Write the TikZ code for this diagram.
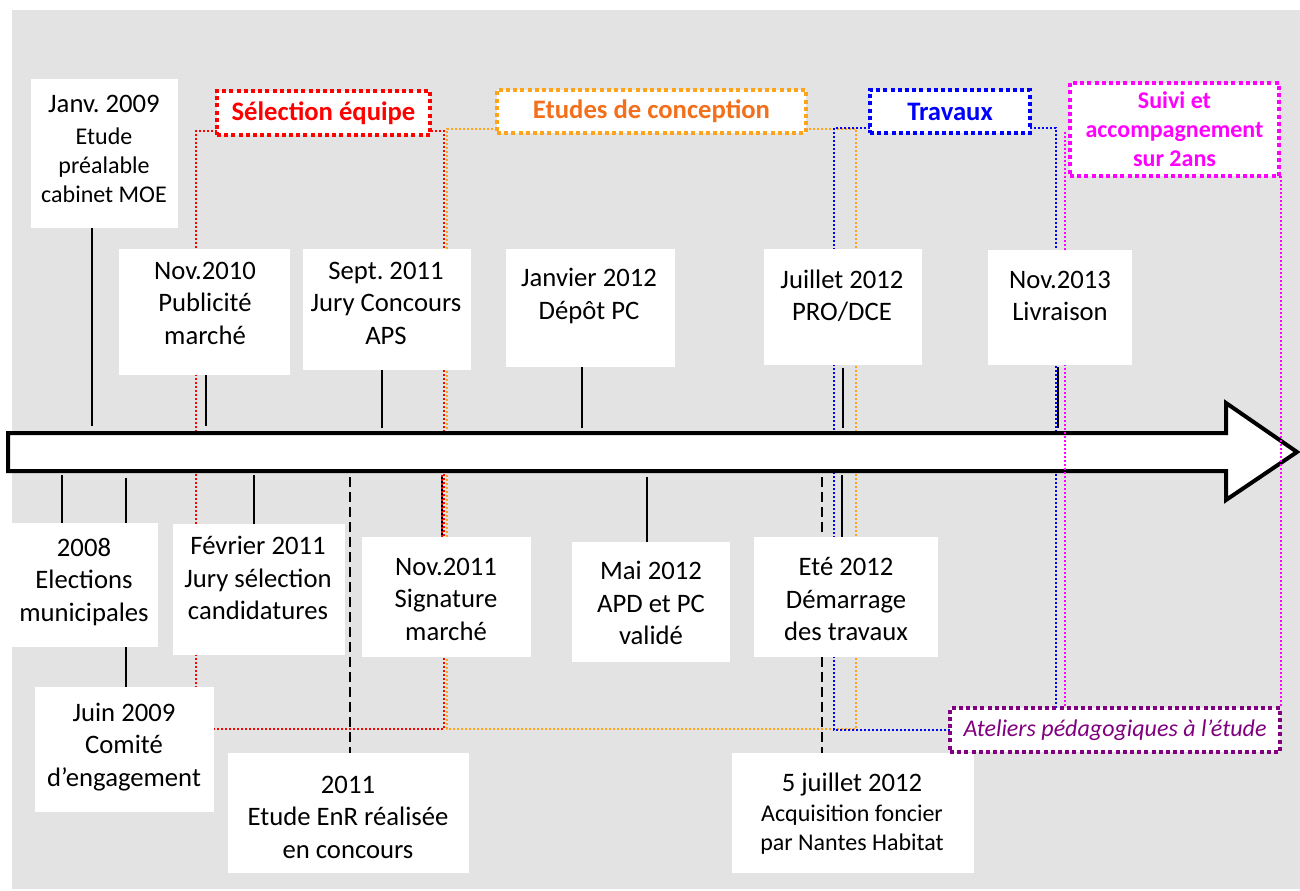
\documentclass[tikz,border=0pt]{standalone}
\usepackage{fontspec}
\setmainfont{Carlito}
\usetikzlibrary{fit}
\definecolor{bggrey}{RGB}{227,227,227}
\definecolor{cred}{RGB}{255,0,0}
\definecolor{corange}{RGB}{255,163,26}
\definecolor{corangetext}{RGB}{242,112,28}
\definecolor{cblue}{RGB}{0,0,255}
\definecolor{cmag}{RGB}{255,0,255}
\definecolor{cpurple}{RGB}{128,0,128}
\newcommand\ftwenty{\fontsize{20}{24.4}\selectfont}
\newcommand\feighteen{\fontsize{18}{21.75}\selectfont}
\pgfdeclarelayer{bglayer}
\pgfdeclarelayer{linelayer}
\pgfdeclarelayer{arrowlayer}
\pgfsetlayers{bglayer,linelayer,arrowlayer,main}
\begin{document}
\frenchspacing
\begin{tikzpicture}[x=0.75pt,y=-0.75pt,
  evbox/.style={fill=white, draw=none, inner sep=0pt, outer sep=0pt},
  evtext/.style={align=center, inner sep=0pt, font=\ftwenty, text=black},
  phase/.style={fill=white, inner sep=0pt, outer sep=0pt, line width=3pt, dash pattern=on 3pt off 2.4pt, font=\ftwenty\bfseries, align=center},
  thindot/.style={line width=1.5pt, dash pattern=on 1.5pt off 1.5pt},
  tick/.style={line width=1.3pt, draw=black},
  dashtick/.style={line width=1.5pt, draw=black, dash pattern=on 7.5pt off 3.75pt}]
\useasboundingbox (0,0) rectangle (1300,891);

% ---------- event boxes ----------
\node[evbox, fit={(31,79) (178,228)}] (A) {};
\node[evbox, fit={(119,249) (290,375)}] (B) {};
\node[evbox, fit={(303,249) (471,370)}] (C) {};
\node[evbox, fit={(506,249) (675,367)}] (D) {};
\node[evbox, fit={(764,249) (922,365)}] (E) {};
\node[evbox, fit={(988,250) (1132,365)}] (F) {};
\node[evbox, fit={(12,523) (158,647)}] (G) {};
\node[evbox, fit={(35,687) (214,812)}] (H) {};
\node[evbox, fit={(173,524) (345,655)}] (I) {};
\node[evbox, fit={(228,753) (469,873)}] (J) {};
\node[evbox, fit={(362,537) (531,657)}] (K) {};
\node[evbox, fit={(572,542) (730,662)}] (L) {};
\node[evbox, fit={(754,537) (938,657)}] (M) {};
\node[evbox, fit={(732,753) (974,873)}] (N) {};

\node[evtext, font=\feighteen] (At) at (104,149) {{\ftwenty Janv. 2009}\\[2.25pt]Etude\\préalable\\cabinet MOE};
\node[evtext] (Bt) at (205,303) {Nov.2010\\Publicité\\marché};
\node[evtext] (Ct) at (386,303) {Sept. 2011\\Jury Concours\\APS};
\node[evtext] (Dt) at (589,296) {Janvier 2012\\Dépôt PC};
\node[evtext] (Et) at (842,296) {Juillet 2012\\PRO/DCE};
\node[evtext] (Ft) at (1060,296) {Nov.2013\\Livraison};
\node[evtext] (Gt) at (84,582) {2008\\Elections\\municipales};
\node[evtext] (Ht) at (124,747) {Juin 2009\\Comité\\d’engagement};
\node[evtext] (It) at (258,578) {Février 2011\\Jury sélection\\candidatures};
\node[evtext] (Jt) at (348,817) {2011\\Etude EnR réalisée\\en concours};
\node[evtext] (Kt) at (446,599) {Nov.2011\\Signature\\marché};
\node[evtext] (Lt) at (651,603) {Mai 2012\\APD et PC\\validé};
\node[evtext] (Mt) at (846,599) {Eté 2012\\Démarrage\\des travaux};
\node[evtext, font=\feighteen] (Nt) at (852,814) {{\ftwenty 5 juillet 2012}\\[0.75pt]Acquisition foncier\\par Nantes Habitat};

% ---------- phase boxes ----------
\node[phase, draw=cred, text=cred, minimum width=159.75pt, minimum height=33pt] (P1) at (323.5,113) {Sélection équipe};
\node[phase, draw=corange, text=corangetext, minimum width=231.75pt, minimum height=32.25pt] (P2) at (651.5,111.5) {Etudes de conception};
\node[phase, draw=cblue, text=cblue, minimum width=120pt, minimum height=32.25pt] (P3) at (950,111.5) {Travaux};
\node[phase, draw=cmag, text=cmag, font=\feighteen\bfseries, minimum width=156.75pt, minimum height=69.75pt] (P4) at (1174.5,129.5) {Suivi et\\accompagnement\\sur 2ans};
\node[phase, draw=cpurple, text=cpurple, font=\feighteen\itshape, minimum width=247.5pt, minimum height=33pt] (P5) at (1115,730) {Ateliers pédagogiques à l’étude};

% ---------- background ----------
\begin{pgfonlayer}{bglayer}
\fill[white] (0,0) rectangle (1300,891);
\fill[bggrey] (12,10) rectangle (1300,889);
\end{pgfonlayer}

% ---------- phase brackets and ticks ----------
\begin{pgfonlayer}{linelayer}
\coordinate (oT) at (447,129);
\coordinate (oB) at (856,729);
\draw[thindot, draw=corange] (P2.west |- oT) -- (oT) -- (oT |- oB) -- (oB) -- (oB |- oT) -- (P2.east |- oT);
\coordinate (rT) at (196,131);
\coordinate (rB) at (444,729);
\draw[thindot, draw=cred] (P1.west |- rT) -- (rT) -- (rT |- rB) -- (rB) -- (rB |- rT) -- (P1.east |- rT);
\coordinate (blT) at (834,128);
\coordinate (brT) at (1056,128);
\draw[thindot, draw=cblue] (P3.west |- blT) -- (blT) -- (blT |- P5.west) -- (P5.west);
\draw[thindot, draw=cblue] (P3.east |- brT) -- (brT) -- (brT |- P5.north);

% ticks above the arrow
\coordinate (tA) at (92,426);
\coordinate (tB) at (206,426);
\coordinate (tC) at (382,428);
\coordinate (tD) at (582,428);
\coordinate (tE) at (843,428);
\coordinate (tF) at (1058,428);
\draw[tick] (A.south -| tA) -- (tA);
\draw[tick] (B.south -| tB) -- (tB);
\draw[tick] (C.south -| tC) -- (tC);
\draw[tick] (D.south -| tD) -- (tD);
\draw[tick] ([yshift=-2pt]E.south -| tE) -- (tE);
\draw[tick] ([yshift=-1.5pt]F.south -| tF) -- (tF);
% ticks below the arrow
\coordinate (bG) at (62,475);
\coordinate (bH) at (126,478);
\coordinate (bI) at (254,475);
\coordinate (bK) at (442,475);
\coordinate (bL) at (647,477);
\coordinate (bM) at (842,475);
\coordinate (bJ) at (350,477);
\coordinate (bN) at (822,477);
\draw[tick] (bG) -- (bG |- G.north);
\draw[tick] (bH) -- (bH |- H.north);
\draw[tick] (bI) -- (bI |- I.north);
\draw[tick] (bK) -- (bK |- K.north);
\draw[tick] (bL) -- (bL |- L.north);
\draw[tick] (bM) -- (bM |- M.north);
\draw[dashtick] (bJ) -- (bJ |- J.north);
\draw[dashtick] (bN) -- (bN |- N.north);
\draw[thindot, draw=cred] (bK) -- (bK |- K.north);
\end{pgfonlayer}

% ---------- timeline arrow and follow-up bracket ----------
\begin{pgfonlayer}{arrowlayer}
\draw[line width=3pt, fill=white, line join=miter]
  (8,433) -- (1226,433) -- (1226,403) -- (1297,452) -- (1226,500) -- (1226,471) -- (8,471) -- cycle;
\coordinate (mL) at (1065,132);
\coordinate (mR) at (1281,176);
\draw[thindot, draw=cmag] (mL) -- (mL |- P5.north);
\draw[thindot, draw=cmag] (mR) -- (mR |- P5.north);
\end{pgfonlayer}
\end{tikzpicture}
\end{document}
